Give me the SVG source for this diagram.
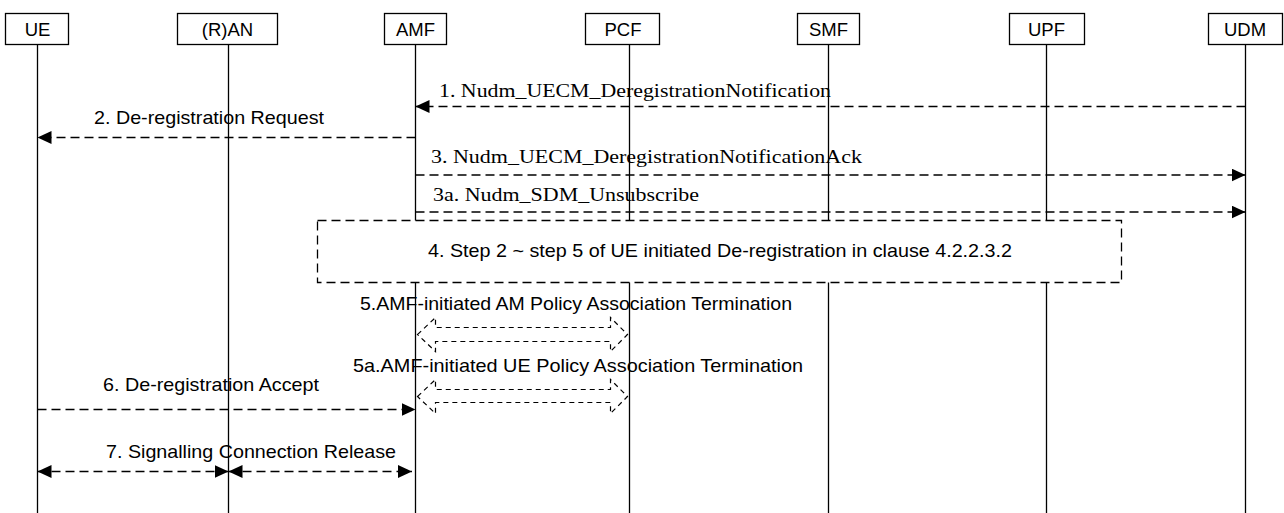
<svg xmlns="http://www.w3.org/2000/svg" width="1284" height="513" viewBox="0 0 1284 513">
<style>
.hdr{fill:#fff;stroke:#000;stroke-width:1.3}
.life{stroke:#000;stroke-width:1.3}
.ht{font-family:"Liberation Sans",Arial,sans-serif;font-size:18.5px;fill:#000;text-anchor:middle}
.sans{font-family:"Liberation Sans",Arial,sans-serif;font-size:18.5px;fill:#000}
.serif{font-family:"Liberation Serif","Times New Roman",serif;font-size:19.5px;fill:#000}
.msg{stroke:#000;stroke-width:1.4;stroke-dasharray:9,5;fill:none}
.blk{stroke:#000;stroke-width:1.2;stroke-dasharray:5,4;fill:none}
.note{fill:#fff;stroke:#000;stroke-width:1.3;stroke-dasharray:9,5}
</style>
<defs>
<marker id="ah" markerUnits="userSpaceOnUse" markerWidth="14" markerHeight="13" refX="14" refY="6.5" orient="auto-start-reverse" viewBox="0 0 14 13">
<path d="M0,0 L14,6.5 L0,13 z" fill="#000"/>
</marker>
</defs>
<rect width="1284" height="513" fill="#fff"/>
<g id="UE"><line class="life" x1="37.5" y1="44" x2="37.5" y2="513"/><rect class="hdr" x="5.5" y="13.5" width="63" height="31"/><text class="ht" x="37.5" y="36">UE</text></g>
<g id="RAN"><line class="life" x1="228.5" y1="44" x2="228.5" y2="513"/><rect class="hdr" x="177.5" y="13.5" width="100" height="31"/><text class="ht" x="227.5" y="36">(R)AN</text></g>
<g id="AMF"><line class="life" x1="415.5" y1="44" x2="415.5" y2="513"/><rect class="hdr" x="384.5" y="13.5" width="62" height="31"/><text class="ht" x="415.5" y="36">AMF</text></g>
<g id="PCF"><line class="life" x1="629.5" y1="44" x2="629.5" y2="513"/><rect class="hdr" x="585.5" y="13.5" width="74" height="31"/><text class="ht" x="623" y="36">PCF</text></g>
<g id="SMF"><line class="life" x1="828.5" y1="44" x2="828.5" y2="513"/><rect class="hdr" x="797.5" y="13.5" width="62" height="31"/><text class="ht" x="828.5" y="36">SMF</text></g>
<g id="UPF"><line class="life" x1="1046.5" y1="44" x2="1046.5" y2="513"/><rect class="hdr" x="1009.5" y="13.5" width="75" height="31"/><text class="ht" x="1046.5" y="36">UPF</text></g>
<g id="UDM"><line class="life" x1="1245.5" y1="44" x2="1245.5" y2="513"/><rect class="hdr" x="1208.5" y="13.5" width="74" height="31"/><text class="ht" x="1245" y="36">UDM</text></g>
<g id="step4"><rect class="note" x="317.5" y="220.5" width="804" height="62"/><text class="sans" x="428" y="257" textLength="584" lengthAdjust="spacingAndGlyphs">4. Step 2 ~ step 5 of UE initiated De-registration in clause 4.2.2.3.2</text></g>
<g id="connectors">
<line class="msg" x1="1245.5" y1="106.5" x2="415.5" y2="106.5" marker-end="url(#ah)"/>
<text class="serif" x="439" y="97" textLength="392" lengthAdjust="spacingAndGlyphs">1. Nudm_UECM_DeregistrationNotification</text>
<line class="msg" x1="415.5" y1="137.5" x2="37.5" y2="137.5" marker-end="url(#ah)"/>
<text class="sans" x="94" y="124" textLength="230" lengthAdjust="spacingAndGlyphs">2. De-registration Request</text>
<line class="msg" x1="415.5" y1="175" x2="1245.5" y2="175" marker-end="url(#ah)"/>
<text class="serif" x="431" y="163" textLength="431" lengthAdjust="spacingAndGlyphs">3. Nudm_UECM_DeregistrationNotificationAck</text>
<line class="msg" x1="415.5" y1="212" x2="1245.5" y2="212" marker-end="url(#ah)"/>
<text class="serif" x="433" y="201" textLength="266" lengthAdjust="spacingAndGlyphs">3a. Nudm_SDM_Unsubscribe</text>
<text class="sans" x="360" y="310" textLength="432" lengthAdjust="spacingAndGlyphs">5.AMF-initiated AM Policy Association Termination</text>
<polygon class="blk" points="417.5,334.5 435.5,317.5 435.5,327.5 610.5,327.5 610.5,317.5 627.5,334.5 610.5,351.5 610.5,341.5 435.5,341.5 435.5,351.5"/>
<text class="sans" x="353" y="372" textLength="450" lengthAdjust="spacingAndGlyphs">5a.AMF-initiated UE Policy Association Termination</text>
<polygon class="blk" points="417.5,396.5 435.5,379.5 435.5,389.5 610.5,389.5 610.5,379.5 627.5,396.5 610.5,413.5 610.5,402.5 435.5,402.5 435.5,413.5"/>
<line class="msg" x1="37.5" y1="409.5" x2="415.5" y2="409.5" marker-end="url(#ah)"/>
<text class="sans" x="103" y="391" textLength="216" lengthAdjust="spacingAndGlyphs">6. De-registration Accept</text>
<line class="msg" x1="37.5" y1="471.5" x2="228.5" y2="471.5" marker-start="url(#ah)" marker-end="url(#ah)"/>
<line class="msg" x1="228.5" y1="471.5" x2="412" y2="471.5" marker-start="url(#ah)" marker-end="url(#ah)"/>
<text class="sans" x="106" y="458" textLength="290" lengthAdjust="spacingAndGlyphs">7. Signalling Connection Release</text>
</g>
</svg>
